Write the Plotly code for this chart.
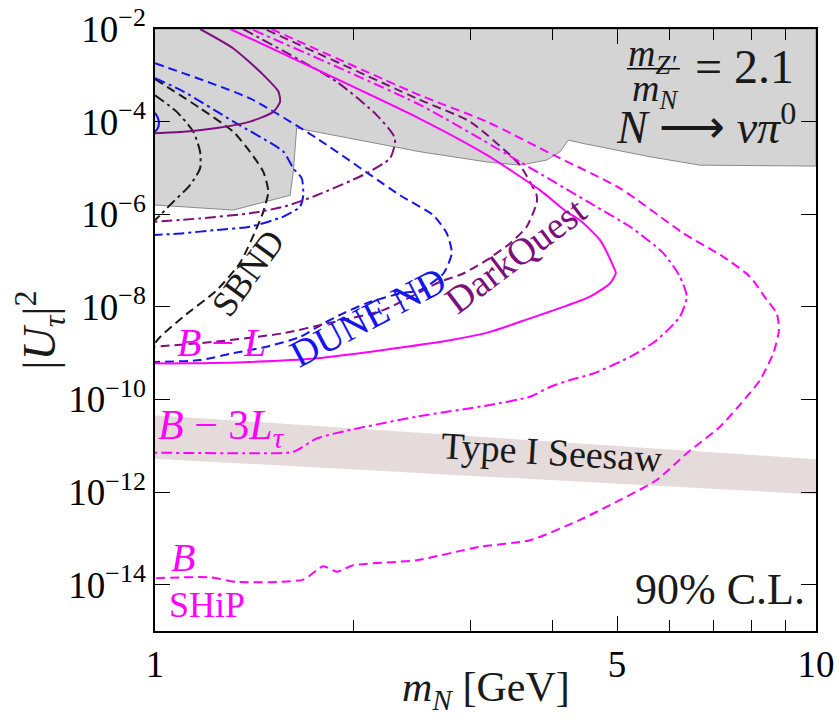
import plotly.graph_objects as go
import numpy as np

# ---------------- data (mN in GeV, log10 |U_tau|^2) ----------------
excl_m = [1.0, 1.314, 1.601, 1.619, 1.638, 2.517, 3.175, 3.566, 3.914, 4.100, 4.22, 4.473, 5.610, 6.677, 10.0]
excl_logU = [-5.80, -5.91, -5.59, -5.08, -4.14, -4.65, -4.87, -4.94, -4.83, -4.65, -4.40, -4.48, -4.76, -4.94, -4.96]

seesaw_m = [1.0, 10.0]
seesaw_top = [-10.34, -11.29]
seesaw_bot = [-11.28, -12.05]

# SHiP (magenta)
ship_B_m = [1.500, 2.517, 3.175, 4.005, 5.054, 6.300, 7.240, 7.948, 8.423, 8.721, 8.790, 8.619, 8.229,
            7.859, 7.157, 6.375, 5.741, 5.054, 4.395, 3.692, 3.102, 2.489, 1.995, 1.883, 1.797, 1.676,
            1.329, 1.211, 1.0]
ship_B_logU = [-2.0, -3.43, -4.00, -4.72, -5.44, -6.41, -6.92, -7.35, -7.85, -8.14, -8.50, -9.00, -9.58,
               -9.94, -10.59, -11.16, -11.74, -12.17, -12.60, -13.04, -13.18, -13.47, -13.58, -13.72,
               -13.60, -13.89, -13.94, -13.84, -13.86]

ship_BL_m = [1.299, 2.517, 3.175, 3.823, 4.196, 4.395, 4.713, 4.938, 4.980, 4.881, 4.551, 4.148, 3.692,
             3.212, 2.795, 2.215, 1.757, 1.392, 1.104, 1.0]
ship_BL_logU = [-2.0, -3.94, -4.72, -5.48, -5.95, -6.13, -6.56, -7.13, -7.27, -7.49, -7.78, -8.00, -8.25,
                -8.54, -8.72, -8.93, -9.11, -9.19, -9.22, -9.22]

ship_B3L_m = [1.407, 2.517, 3.566, 4.604, 5.233, 5.875, 6.226, 6.375, 6.226, 5.741, 5.233, 4.604, 4.245,
              3.959, 3.692, 3.212, 2.489, 1.972, 1.757, 1.619, 1.392, 1.0]
ship_B3L_logU = [-2.02, -3.64, -4.87, -5.80, -6.27, -6.84, -7.35, -7.78, -8.21, -8.72, -9.08, -9.44, -9.58,
                 -9.73, -9.94, -10.12, -10.37, -10.66, -10.84, -11.13, -11.16, -11.15]

# DarkQuest (purple)
dq_BL_m = [1.170, 1.314, 1.458, 1.537, 1.546, 1.510, 1.392, 1.240, 1.104, 1.0]
dq_BL_logU = [-2.0, -2.42, -2.99, -3.35, -3.57, -3.79, -4.00, -4.14, -4.22, -4.25]

dq_B3L_m = [1.359, 1.883, 2.165, 2.307, 2.268, 2.066, 1.757, 1.564, 1.392, 1.170, 1.0]
dq_B3L_logU = [-2.0, -3.14, -3.86, -4.36, -4.79, -5.15, -5.59, -5.84, -5.98, -6.09, -6.16]

dq_B_m = [1.476, 2.517, 2.996, 3.444, 3.566, 3.692, 3.779, 3.779, 3.650, 3.444, 3.175, 2.927, 2.699,
          2.215, 1.819, 1.564, 1.240, 1.0]
dq_B_logU = [-2.02, -3.53, -4.00, -4.72, -4.94, -5.30, -5.59, -5.76, -6.27, -6.63, -6.99, -7.28, -7.46,
             -8.07, -8.36, -8.57, -8.75, -8.86]

# DUNE ND (blue)
dune_B_m = [1.0, 1.392, 1.757, 2.348, 2.636, 2.763, 2.812, 2.731, 2.517, 2.348, 2.091, 1.927,
            1.797, 1.657, 1.476, 1.314, 1.170, 1.0]
dune_B_logU = [-2.74, -3.50, -4.36, -5.59, -6.02, -6.41, -6.84, -7.28, -7.64, -7.71, -7.92, -8.14,
               -8.36, -8.65, -8.86, -9.00, -9.15, -9.19]

dune_B3L_m = [1.0, 1.104, 1.314, 1.564, 1.619, 1.667, 1.676, 1.657, 1.564, 1.392, 1.240, 1.104, 1.0]
dune_B3L_logU = [-3.06, -3.35, -4.00, -4.65, -5.01, -5.22, -5.59, -5.84, -6.05, -6.27, -6.34, -6.41, -6.45]

dune_BL_m = [1.0, 1.010, 1.014, 1.010, 1.0]
dune_BL_logU = [-3.81, -3.92, -4.03, -4.14, -4.22]

# SBND (black)
sbnd_B3L_m = [1.0, 1.079, 1.143, 1.170, 1.170, 1.130, 1.066, 1.018, 1.0]
sbnd_B3L_logU = [-3.43, -3.79, -4.22, -4.65, -5.01, -5.37, -5.73, -6.02, -6.13]

sbnd_B_m = [1.0, 1.170, 1.314, 1.392, 1.458, 1.484, 1.458, 1.432, 1.345, 1.240, 1.104, 1.018, 1.0]
sbnd_B_logU = [-3.08, -3.71, -4.22, -4.65, -5.08, -5.51, -5.95, -6.23, -7.05, -7.64, -8.21, -8.65, -8.78]

y_tick_exp = [-2, -4, -6, -8, -10, -12, -14]
x_tick_vals = [1, 5, 10]
x_minor_vals = [2, 3, 4, 6, 7, 8, 9]

MAGENTA = "#ff00ff"
PURPLE = "#7d0f7d"
BLUE = "#1414f0"
BLACK = "#1a1a1a"
FONT = "Liberation Serif"

DASH = "9px,5px"
DASHDOT = "11px,4px,3px,4px"

fig = go.Figure()

# excluded region
ex_x = list(excl_m) + [10.0, 1.0]
ex_y = [10.0 ** v for v in excl_logU] + [1e-2, 1e-2]
fig.add_trace(go.Scatter(x=ex_x, y=ex_y, fill="toself", fillcolor="#d4d4d4",
                         line=dict(color="#8a8a8a", width=1), mode="lines", hoverinfo="skip"))

# seesaw band
ss_x = list(seesaw_m) + list(seesaw_m[::-1])
ss_y = [10.0 ** v for v in seesaw_top] + [10.0 ** v for v in seesaw_bot[::-1]]
fig.add_trace(go.Scatter(x=ss_x, y=ss_y, fill="toself", fillcolor="#e6dbdb",
                         line=dict(color="rgba(0,0,0,0)", width=0), mode="lines", hoverinfo="skip"))

def curve(m, lu, color, dash, width=2.0):
    fig.add_trace(go.Scatter(x=m, y=[10.0 ** v for v in lu], mode="lines",
                             line=dict(color=color, dash=dash, width=width, shape="spline", smoothing=0.6),
                             hoverinfo="skip"))

curve(sbnd_B_m, sbnd_B_logU, BLACK, DASH)
curve(sbnd_B3L_m, sbnd_B3L_logU, BLACK, DASHDOT)
curve(dune_BL_m, dune_BL_logU, BLUE, "solid")
curve(dune_B_m, dune_B_logU, BLUE, DASH)
curve(dune_B3L_m, dune_B3L_logU, BLUE, DASHDOT)
curve(dq_BL_m, dq_BL_logU, PURPLE, "solid")
curve(dq_B_m, dq_B_logU, PURPLE, DASH)
curve(dq_B3L_m, dq_B3L_logU, PURPLE, DASHDOT)
curve(ship_BL_m, ship_BL_logU, MAGENTA, "solid")
curve(ship_B_m, ship_B_logU, MAGENTA, DASH)
curve(ship_B3L_m, ship_B3L_logU, MAGENTA, DASHDOT)

def label(x, y, text, color, size, angle=0, xanchor="center", yanchor="middle", ref="data"):
    xr, yr = ("x", "y") if ref == "data" else ("paper", "paper")
    fig.add_annotation(x=x, y=y, xref=xr, yref=yr, text=text, showarrow=False,
                       font=dict(family=FONT, size=size, color=color), textangle=angle,
                       xanchor=xanchor, yanchor=yanchor)

label(0.1407, -7.27, "SBND", BLACK, 36, -54)
label(0.322, -8.22, "DUNE ND", BLUE, 38, -28)
label(0.546, -6.88, "DarkQuest", PURPLE, 38, -37)
label(0.100, -8.78, "<i>B</i> − <i>L</i>", MAGENTA, 40)
label(0.002, -10.62, "<i>B</i> − 3<i>L</i><sub><i>τ</i></sub>", MAGENTA, 42, xanchor="left")
label(0.042, -13.42, "<i>B</i>", MAGENTA, 40)
label(0.079, -14.44, "SHiP", MAGENTA, 36)
label(0.6006, -11.14, "Type I Seesaw", BLACK, 38, 3.5)
label(0.855, -14.10, "90% C.L.", BLACK, 44)
label(0.753, -2.58, "<i>m</i><sub><i>Z′</i></sub>", BLACK, 38)
label(0.756, -3.34, "<i>m</i><sub><i>N</i></sub>", BLACK, 38)
label(0.892, -2.82, "= 2.1", BLACK, 48)
label(0.834, -4.05, "<i>N</i> ⟶ <i>νπ</i><sup>0</sup>", BLACK, 46)

# axis titles
label(0.5, -0.098, "<i>m</i><sub><i>N</i></sub> [GeV]", BLACK, 42, ref="paper")
label(-0.176, 0.5, "|<i>U</i><sub><i>τ</i></sub>|<sup>2</sup>", BLACK, 46, angle=-90, ref="paper")

fig.add_shape(type="line", xref="paper", yref="paper", x0=0.714, x1=0.794, y0=0.934, y1=0.934,
              line=dict(color="black", width=1.5))

fig.update_layout(
    width=837, height=722,
    margin=dict(l=155, r=21, t=29, b=91, autoexpand=False),
    plot_bgcolor="white", paper_bgcolor="white",
    showlegend=False,
    font=dict(family=FONT, color="black"),
)
fig.update_xaxes(
    type="log", range=[0, 1], automargin=False,
    tickvals=x_tick_vals, ticktext=[str(v) for v in x_tick_vals],
    ticks="inside", ticklen=15, tickwidth=1.2, tickcolor="black",
    mirror="ticks", showline=True, linecolor="black", linewidth=1.5,
    showgrid=False, zeroline=False, tickfont=dict(size=37, family=FONT),
    minor=dict(tickvals=x_minor_vals, ticks="inside", ticklen=11, tickcolor="black", tickwidth=1.2, showgrid=False),
)
fig.update_yaxes(
    type="log", range=[-15, -2], automargin=False,
    tickvals=[10.0 ** e for e in y_tick_exp],
    ticktext=["10<sup>−%d</sup>" % (-e) for e in y_tick_exp],
    ticks="inside", ticklen=15, tickwidth=1.2, tickcolor="black",
    mirror="ticks", showline=True, linecolor="black", linewidth=1.5,
    showgrid=False, zeroline=False, tickfont=dict(size=37, family=FONT),
)

fig.write_html("out.html")
